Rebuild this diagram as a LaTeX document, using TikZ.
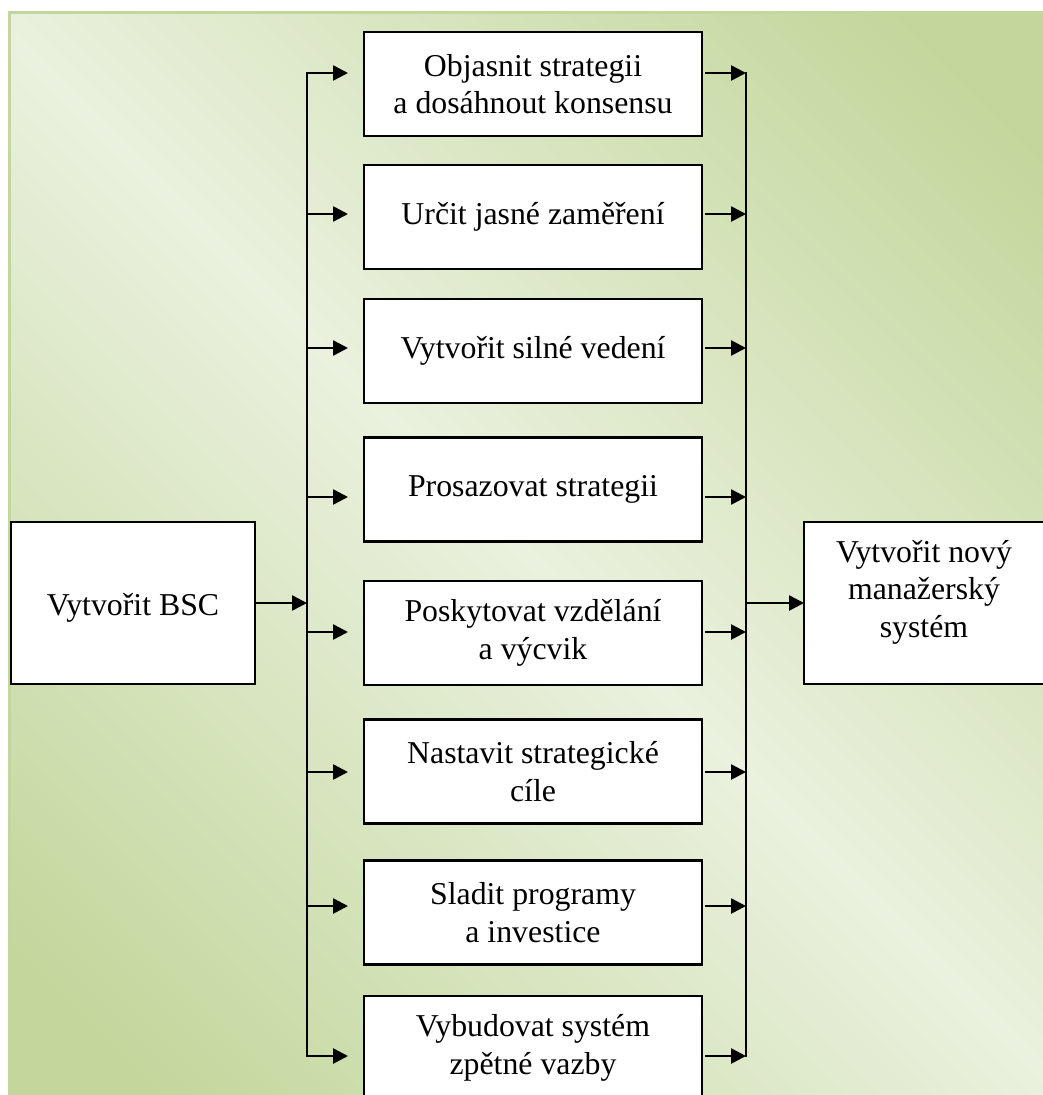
\documentclass[tikz,border=0pt]{standalone}
\usepackage{fontspec}
\setmainfont{Liberation Serif}
\usetikzlibrary{arrows.meta}
\definecolor{bgdark}{HTML}{C3D69B}
\definecolor{bglight}{HTML}{EAF1DE}
\definecolor{bgedge}{HTML}{C3D69B}
% dark - light - dark ramp spanning the full diagonal of the backdrop
\pgfdeclarehorizontalshading{backdrop}{100bp}{%
  color(0bp)=(bgdark); color(19bp)=(bgdark); color(50bp)=(bglight);
  color(81bp)=(bgdark); color(100bp)=(bgdark)}

\begin{document}
\begin{tikzpicture}[x=1pt,y=-1pt,
  box/.style={draw=black, fill=white, line width=2.4pt, outer sep=0pt, inner sep=0pt,
    align=center, font=\fontsize{31.8}{37.5}\selectfont},
  stepbox/.style={box, minimum width=338pt, minimum height=104pt},
  endbox/.style={box, minimum width=244pt, minimum height=162pt},
  txt/.style={inner sep=0pt, align=center, font=\fontsize{31.8}{37.5}\selectfont},
  link/.style={line width=2.6pt},
  bus/.style={link, line cap=rect},
  arr/.style={link, -{Triangle[length=15pt,width=15pt]}},
]
% page and shaded backdrop
\clip (0,0) rectangle (1043,1095);
\fill[white] (0,0) rectangle (1043,1095);
\shade[shading=backdrop, shading angle=45] (8,11) rectangle (1043,1095);
\draw[bgedge, line width=2.5pt] (9.5,1095) -- (9.5,12.5) -- (1043,12.5);

% source and target
\node[endbox] (src) at (133,603) {};
\node[txt] (srclabel) at (133,608) {Vytvořit BSC};
\node[box, minimum width=240pt, minimum height=162pt] (dst) at (924,603) {};
\node[txt] (dstlabel) at (924,592) {Vytvořit nový\\manažerský\\systém};

% the eight steps
\node[stepbox] (s1) at (533,84)    {Objasnit strategii\\a dosáhnout konsensu};
\node[stepbox] (s2) at (533,217)   {Určit jasné zaměření};
\node[stepbox] (s3) at (533,351)   {Vytvořit silné vedení};
\node[stepbox] (s4) at (533,489.5) {Prosazovat strategii};
\node[stepbox] (s5) at (533,633)   {Poskytovat vzdělání\\a výcvik};
\node[stepbox] (s6) at (533,771.5) {Nastavit strategické\\cíle};
\node[stepbox] (s7) at (533,912.5) {Sladit programy\\a investice};
\node[stepbox] (s8) at (533,1048)  {Vybudovat systém\\zpětné vazby};

% bus taps
\foreach \i/\y in {1/73,2/214,3/348,4/497,5/632,6/772,7/906,8/1056}{
  \coordinate (l\i) at (307,\y);
  \coordinate (r\i) at (746,\y);
}

% fan-out bus
\draw[bus] (l1) -- (l8);
\draw[arr] (src.east) -- (src.east -| l1);
\foreach \i in {1,...,8}{
  \draw[arr, shorten >=16pt] (l\i) -- (l\i -| s\i.west);
}

% fan-in bus
\draw[bus] (r1) -- (r8);
\foreach \i in {1,...,8}{
  \draw[arr, shorten <=3pt] (s\i.east |- r\i) -- (r\i);
}
\draw[arr] (dst.west -| r1) -- (dst.west);
\end{tikzpicture}
\end{document}
